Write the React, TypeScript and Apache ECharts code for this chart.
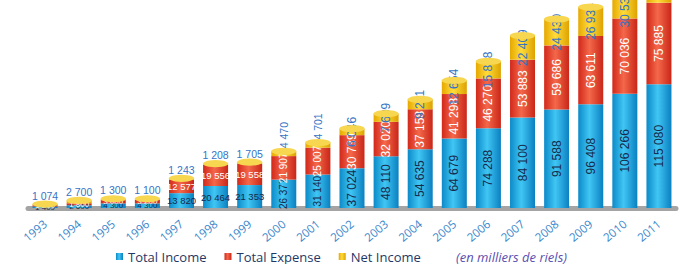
import React, { useEffect, useRef } from "react";
import * as echarts from "echarts";

const years = ["1993", "1994", "1995", "1996", "1997", "1998", "1999", "2000", "2001", "2002", "2003", "2004", "2005", "2006", "2007", "2008", "2009", "2010", "2011"];
const totalIncome = [1409, 2600, 4300, 4300, 13820, 20464, 21353, 26377, 31140, 37024, 48110, 54635, 64679, 74288, 84100, 91588, 96408, 106266, 115080];
const totalExpense = [1200, 1800, 3000, 3200, 12577, 19556, 19558, 21907, 25007, 30739, 32020, 37158, 41298, 46270, 53883, 59686, 63611, 70036, 75885];
const netIncome = [1074, 2700, 1300, 1100, 1243, 1208, 1705, 4470, 4701, 6046, 7609, 9211, 12654, 15818, 22409, 24430, 26934, 30536, 39195];
const legendNames = ["Total Income", "Total Expense", "Net Income"];
const unitNote = "(en milliers de riels)";

const fmt = (v: number) => String(v).replace(/\B(?=(\d{3})+(?!\d))/g, " ");

const grad = (a: string, b: string, c: string) =>
  new echarts.graphic.LinearGradient(0, 0, 1, 0, [
    { offset: 0, color: a },
    { offset: 0.45, color: b },
    { offset: 1, color: c },
  ]);

export default function App() {
  const ref = useRef<HTMLDivElement>(null);
  useEffect(() => {
    document.body.style.margin = "0";
    const chart = echarts.init(ref.current!, null, { renderer: "svg" });
    const font = "Liberation Sans";

    const incomeData = totalIncome.map((v, i) => {
      const y = Number(years[i]);
      return {
        value: v,
        label:
          y >= 2000
            ? { rotate: 90, fontSize: y >= 2002 ? 12 : 10 }
            : { rotate: 0, fontSize: y >= 1997 ? 9.5 : 8 },
      };
    });
    const expenseData = totalExpense.map((v, i) => {
      const y = Number(years[i]);
      return {
        value: v,
        label:
          y >= 2000
            ? { rotate: 90, fontSize: y >= 2002 ? 12 : 10 }
            : { rotate: 0, fontSize: y >= 1997 ? 9.5 : 8 },
      };
    });
    const netData = netIncome.map((v, i) => {
      const y = Number(years[i]);
      let label: any;
      if (y === 2011) label = { show: false };
      else if (y < 2000) label = { position: "top", rotate: 0, fontSize: 10.5, distance: 3 };
      else if (y < 2002) label = { position: "top", rotate: 90, align: "left", verticalAlign: "middle", fontSize: 10.5, distance: 3 };
      else label = { position: "inside", rotate: 90, fontSize: 12 };
      return { value: v, label };
    });
    const totals = years.map((_, i) => totalIncome[i] + totalExpense[i] + netIncome[i]);

    chart.setOption({
      animation: false,
      backgroundColor: "#ffffff",
      grid: { left: 28, right: 20, top: 0, bottom: 56 },
      legend: {
        data: legendNames,
        left: 116,
        top: 250,
        padding: 0,
        icon: "rect",
        itemWidth: 7,
        itemHeight: 7,
        itemGap: 18,
        textStyle: { color: "#1f3866", fontSize: 13, fontFamily: "Open Sans" },
      },
      xAxis: {
        type: "category",
        data: years,
        axisLine: { lineStyle: { color: "#a4a4a4", width: 5 } },
        axisTick: { show: false },
        axisLabel: {
          rotate: 40,
          margin: 14,
          color: "#3a86cc",
          fontSize: 11.5,
          fontFamily: "Open Sans",
        },
      },
      yAxis: { type: "value", min: 0, max: 193500, show: false, splitLine: { show: false } },
      graphic: [
        {
          type: "text",
          left: 456,
          top: 250,
          style: {
            text: unitNote,
            fill: "#5a4fb0",
            font: "italic 13px 'Open Sans'",
          },
        },
      ],
      series: [
        {
          name: "Total Income",
          type: "bar",
          stack: "t",
          barWidth: 25,
          data: incomeData,
          itemStyle: { color: grad("#0b8ac8", "#40c6f4", "#0a80c0") },
          label: {
            show: true,
            position: "inside",
            color: "#162a4c",
            fontFamily: font,
            formatter: (p: any) => fmt(p.value),
          },
        },
        {
          name: "Total Expense",
          type: "bar",
          stack: "t",
          barWidth: 25,
          data: expenseData,
          itemStyle: { color: grad("#d2281a", "#f4684a", "#c92618") },
          label: {
            show: true,
            position: "inside",
            color: "#ffffff",
            fontFamily: font,
            formatter: (p: any) => fmt(p.value),
          },
        },
        {
          name: "Net Income",
          type: "bar",
          stack: "t",
          barWidth: 25,
          data: netData,
          itemStyle: { color: grad("#e6a800", "#ffdc3a", "#dea200") },
          label: {
            show: true,
            color: "#3474c6",
            fontFamily: font,
            formatter: (p: any) => fmt(p.value),
          },
        },
        {
          name: "cap",
          type: "pictorialBar",
          symbol: "circle",
          symbolSize: [25, 7],
          symbolPosition: "end",
          symbolOffset: [0, "-50%"],
          data: totals,
          itemStyle: { color: "#f7d650" },
          silent: true,
          z: 3,
        },
      ],
    });
    return () => chart.dispose();
  }, []);
  return <div ref={ref} style={{ width: 696, height: 264 }} />;
}
